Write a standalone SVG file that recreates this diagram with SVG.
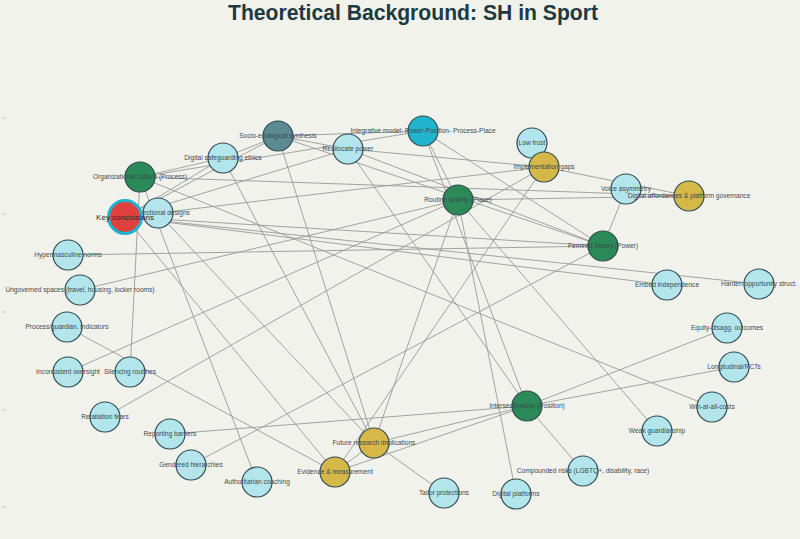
<svg xmlns="http://www.w3.org/2000/svg" width="800" height="539" viewBox="0 0 800 539">
<style>
.bg{fill:#f2f2ed}
.title{font-family:"Liberation Sans",Arial,sans-serif;font-size:22px;font-weight:bold;fill:#1d3a40}
.edges line{stroke:#999996;stroke-width:0.9}
.n circle{stroke:#2f4a50;stroke-width:1.2}
.light circle{fill:#b3e5ec}
.green circle{fill:#2b8a57}
.gold circle{fill:#d5b848}
.socio circle{fill:#5b8a92}
.integ circle{fill:#1fb6cd}
.lbl{font-family:"Liberation Sans",Arial,sans-serif;font-size:6.6px;fill:#3a4b51;text-anchor:middle}
.keylbl{font-family:"Liberation Sans",Arial,sans-serif;font-size:8px;fill:#2b2b2b;text-anchor:middle}
.tick{stroke:#c8c8c4;stroke-width:1}
</style>
<rect class="bg" x="0" y="0" width="800" height="539"/>
<g id="ticks">
<line class="tick" x1="2" y1="118" x2="6" y2="118"/>
<line class="tick" x1="2" y1="214" x2="6" y2="214"/>
<line class="tick" x1="2" y1="312" x2="6" y2="312"/>
<line class="tick" x1="2" y1="410" x2="6" y2="410"/>
<line class="tick" x1="2" y1="507" x2="6" y2="507"/>
</g>
<text class="title" x="413" y="20" text-anchor="middle" textLength="370" lengthAdjust="spacingAndGlyphs">Theoretical Background: SH in Sport</text>
<g id="connectors" class="edges">
<line x1="423" y1="131" x2="140" y2="177"/>
<line x1="423" y1="131" x2="458" y2="200"/>
<line x1="423" y1="131" x2="603" y2="246"/>
<line x1="423" y1="131" x2="527" y2="406"/>
<line x1="423" y1="131" x2="278" y2="136"/>
<line x1="278" y1="136" x2="223" y2="158"/>
<line x1="278" y1="136" x2="348" y2="149"/>
<line x1="278" y1="136" x2="603" y2="246"/>
<line x1="278" y1="136" x2="374" y2="443"/>
<line x1="348" y1="149" x2="527" y2="406"/>
<line x1="140" y1="177" x2="223" y2="158"/>
<line x1="140" y1="177" x2="130" y2="372"/>
<line x1="140" y1="177" x2="257" y2="482"/>
<line x1="140" y1="177" x2="712" y2="407"/>
<line x1="140" y1="177" x2="689" y2="196"/>
<line x1="223" y1="158" x2="374" y2="443"/>
<line x1="223" y1="158" x2="125" y2="217"/>
<line x1="278" y1="136" x2="125" y2="217"/>
<line x1="125" y1="217" x2="348" y2="149"/>
<line x1="125" y1="217" x2="544" y2="167"/>
<line x1="125" y1="217" x2="603" y2="246"/>
<line x1="125" y1="217" x2="667" y2="285"/>
<line x1="125" y1="217" x2="759" y2="284"/>
<line x1="125" y1="217" x2="335" y2="472"/>
<line x1="158" y1="213" x2="374" y2="443"/>
<line x1="68" y1="255" x2="603" y2="246"/>
<line x1="80" y1="290" x2="458" y2="200"/>
<line x1="68" y1="372" x2="458" y2="200"/>
<line x1="105" y1="417" x2="544" y2="167"/>
<line x1="67" y1="327" x2="335" y2="472"/>
<line x1="170" y1="434" x2="527" y2="406"/>
<line x1="191" y1="465" x2="603" y2="246"/>
<line x1="626" y1="189" x2="603" y2="246"/>
<line x1="544" y1="167" x2="689" y2="196"/>
<line x1="458" y1="200" x2="689" y2="196"/>
<line x1="458" y1="200" x2="657" y2="431"/>
<line x1="458" y1="200" x2="516" y2="494"/>
<line x1="348" y1="149" x2="603" y2="246"/>
<line x1="348" y1="149" x2="544" y2="167"/>
<line x1="532" y1="143" x2="544" y2="167"/>
<line x1="527" y1="406" x2="583" y2="471"/>
<line x1="527" y1="406" x2="727" y2="328"/>
<line x1="527" y1="406" x2="734" y2="367"/>
<line x1="335" y1="472" x2="527" y2="406"/>
<line x1="374" y1="443" x2="527" y2="406"/>
<line x1="374" y1="443" x2="444" y2="493"/>
<line x1="335" y1="472" x2="374" y2="443"/>
<line x1="335" y1="472" x2="544" y2="167"/>
<line x1="458" y1="200" x2="374" y2="443"/>
</g>
<g id="node-socio" class="n socio"><circle cx="278" cy="136" r="15"/></g>
<g id="node-integrative" class="n integ"><circle cx="423" cy="131" r="15"/></g>
<g id="node-reallocate" class="n light"><circle cx="348" cy="149" r="15"/></g>
<g id="node-digsafe" class="n light"><circle cx="223" cy="158" r="15"/></g>
<g id="node-org" class="n green"><circle cx="140" cy="177" r="15"/></g>
<g id="node-lowtrust" class="n light"><circle cx="532" cy="143" r="15"/></g>
<g id="node-impl" class="n gold"><circle cx="544" cy="167" r="15"/></g>
<g id="node-routine" class="n green"><circle cx="458" cy="200" r="15"/></g>
<g id="node-voice" class="n light"><circle cx="626" cy="189" r="15"/></g>
<g id="node-digaff" class="n gold"><circle cx="689" cy="196" r="15"/></g>
<g id="node-intdes" class="n light"><circle cx="158" cy="213" r="15"/></g>
<g id="node-feminist" class="n green"><circle cx="603" cy="246" r="15"/></g>
<g id="node-hyper" class="n light"><circle cx="68" cy="255" r="15"/></g>
<g id="node-ungov" class="n light"><circle cx="80" cy="290" r="15"/></g>
<g id="node-embed" class="n light"><circle cx="667" cy="285" r="15"/></g>
<g id="node-harden" class="n light"><circle cx="759" cy="284" r="15"/></g>
<g id="node-proc" class="n light"><circle cx="67" cy="327" r="15"/></g>
<g id="node-equity" class="n light"><circle cx="727" cy="328" r="15"/></g>
<g id="node-incons" class="n light"><circle cx="68" cy="372" r="15"/></g>
<g id="node-silenc" class="n light"><circle cx="130" cy="372" r="15"/></g>
<g id="node-longit" class="n light"><circle cx="734" cy="367" r="15"/></g>
<g id="node-intsec" class="n green"><circle cx="527" cy="406" r="15"/></g>
<g id="node-win" class="n light"><circle cx="712" cy="407" r="15"/></g>
<g id="node-retal" class="n light"><circle cx="105" cy="417" r="15"/></g>
<g id="node-report" class="n light"><circle cx="170" cy="434" r="15"/></g>
<g id="node-weak" class="n light"><circle cx="657" cy="431" r="15"/></g>
<g id="node-future" class="n gold"><circle cx="374" cy="443" r="15"/></g>
<g id="node-gender" class="n light"><circle cx="191" cy="465" r="15"/></g>
<g id="node-compound" class="n light"><circle cx="583" cy="471" r="15"/></g>
<g id="node-evidence" class="n gold"><circle cx="335" cy="472" r="15"/></g>
<g id="node-auth" class="n light"><circle cx="257" cy="482" r="15"/></g>
<g id="node-tailor" class="n light"><circle cx="444" cy="493" r="15"/></g>
<g id="node-digplat" class="n light"><circle cx="516" cy="494" r="15"/></g>
<g id="labels">
<text class="lbl" x="278" y="138.3">Socio-ecological synthesis</text>
<text class="lbl" x="423" y="133.3">Integrative model: Power-Position- Process-Place</text>
<text class="lbl" x="348" y="151.3">Reallocate power</text>
<text class="lbl" x="223" y="160.3">Digital safeguarding ethics</text>
<text class="lbl" x="140" y="179.3">Organizational culture (Process)</text>
<text class="lbl" x="532" y="145.3">Low trust</text>
<text class="lbl" x="544" y="169.3">Implementation gaps</text>
<text class="lbl" x="458" y="202.3">Routine activity (Place)</text>
<text class="lbl" x="626" y="191.3">Voice asymmetry</text>
<text class="lbl" x="689" y="198.3">Digital affordances &amp; platform governance</text>
<text class="lbl" x="158" y="215.3">Intersectional designs</text>
<text class="lbl" x="603" y="248.3">Feminist theory (Power)</text>
<text class="lbl" x="68" y="257.3">Hypermasculine norms</text>
<text class="lbl" x="80" y="292.3">Ungoverned spaces (travel, housing, locker rooms)</text>
<text class="lbl" x="667" y="287.3">Embed independence</text>
<text class="lbl" x="759" y="286.3">Harden opportunity struct.</text>
<text class="lbl" x="67" y="329.3">Process/guardian. indicators</text>
<text class="lbl" x="727" y="330.3">Equity-disagg. outcomes</text>
<text class="lbl" x="68" y="374.3">Inconsistent oversight</text>
<text class="lbl" x="130" y="374.3">Silencing routines</text>
<text class="lbl" x="734" y="369.3">Longitudinal/RCTs</text>
<text class="lbl" x="527" y="408.3">Intersectionality (Position)</text>
<text class="lbl" x="712" y="409.3">Win-at-all-costs</text>
<text class="lbl" x="105" y="419.3">Retaliation fears</text>
<text class="lbl" x="170" y="436.3">Reporting barriers</text>
<text class="lbl" x="657" y="433.3">Weak guardianship</text>
<text class="lbl" x="374" y="445.3">Future research implications</text>
<text class="lbl" x="191" y="467.3">Gendered hierarchies</text>
<text class="lbl" x="583" y="473.3">Compounded risks (LGBTQ+, disability, race)</text>
<text class="lbl" x="335" y="474.3">Evidence &amp; measurement</text>
<text class="lbl" x="257" y="484.3">Authoritarian coaching</text>
<text class="lbl" x="444" y="495.3">Tailor protections</text>
<text class="lbl" x="516" y="496.3">Digital platforms</text>
</g>
<g id="node-key">
<circle cx="125" cy="217" r="16.5" fill="#e0413f" stroke="#1fb3cf" stroke-width="3"/>
<text class="keylbl" x="125" y="219.8">Key conclusions</text>
</g>
</svg>
